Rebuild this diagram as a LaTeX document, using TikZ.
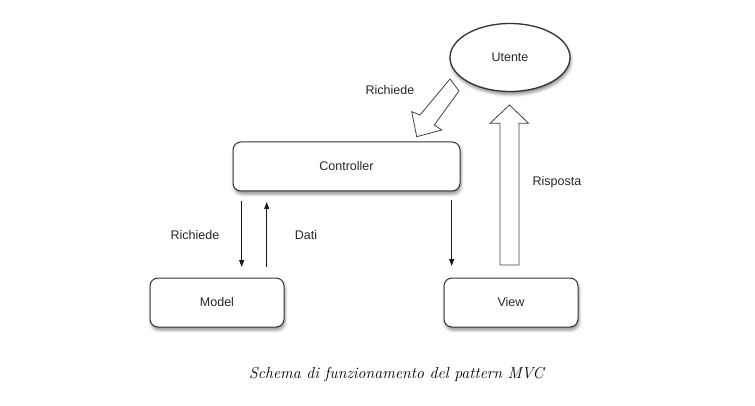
\documentclass[tikz,border=0pt]{standalone}
\usepackage{fontspec}
\setsansfont{Liberation Sans}
\usetikzlibrary{arrows.meta,shadows.blur,shapes.geometric}
\begin{document}
\begin{tikzpicture}[x=1pt,y=-1pt,
  lbl/.style={font=\sffamily\fontsize{12.5}{14}\selectfont, text=black!85},
  boxshape/.style={draw=black!80, line width=1pt, fill=white, rounded corners=8pt,
    blur shadow={shadow xshift=1pt, shadow yshift=-3pt, shadow blur radius=3pt, shadow opacity=45},
    font=\sffamily\fontsize{12.5}{14}\selectfont, text=black!85, inner sep=0pt},
  thinarrow/.style={draw=black!90, line width=0.8pt, -{Triangle[length=7pt,width=5pt]}},
  blockarrow/.style={draw=black!75, line width=0.8pt, fill=white, line join=miter}]
\useasboundingbox (0,0) rectangle (755,406);
% nodes
\node[boxshape, minimum width=227pt, minimum height=49pt] (ctrl) at (346.5,166.5) {Controller};
\node[boxshape, minimum width=134pt, minimum height=49pt] (model) at (217,302.5) {Model};
\node[boxshape, minimum width=134pt, minimum height=49pt] (view) at (511,302.5) {View};
\node[boxshape, ellipse, line width=1.3pt, minimum width=120pt, minimum height=68pt] (utente) at (510,57.5) {Utente};
% thin arrows
\coordinate (r1) at (241.7,201);
\coordinate (r2) at (241.7,267);
\coordinate (d1) at (266.7,267);
\coordinate (d2) at (266.7,202);
\coordinate (v1) at (451.7,200);
\coordinate (v2) at (451.7,266);
\draw[thinarrow] (r1) -- (r2);
\draw[thinarrow] (d1) -- (d2);
\draw[thinarrow] (v1) -- (v2);
% vertical block arrow (Risposta)
\draw[blockarrow] (500,265) -- (500,123.3) -- (490,123.3) -- (509.5,105) -- (528.5,123.3) -- (519,123.3) -- (519,265) -- cycle;
% diagonal block arrow (Richiede)
\draw[blockarrow] (450,79) -- (420,115) -- (411.7,111.7) -- (416.7,136.7) -- (441.7,130) -- (434.3,125) -- (459,91) -- cycle;
% labels
\node[lbl] (lr1) at (195,235) {Richiede};
\node[lbl] (ld) at (306,235) {Dati};
\node[lbl] (lr2) at (390,90) {Richiede};
\node[lbl] (lrisp) at (557,182) {Risposta};
% caption
\node[font=\itshape\fontsize{15.9}{18}\selectfont] (cap) at (396.5,375) {Schema di funzionamento del pattern MVC};
\end{tikzpicture}
\end{document}
